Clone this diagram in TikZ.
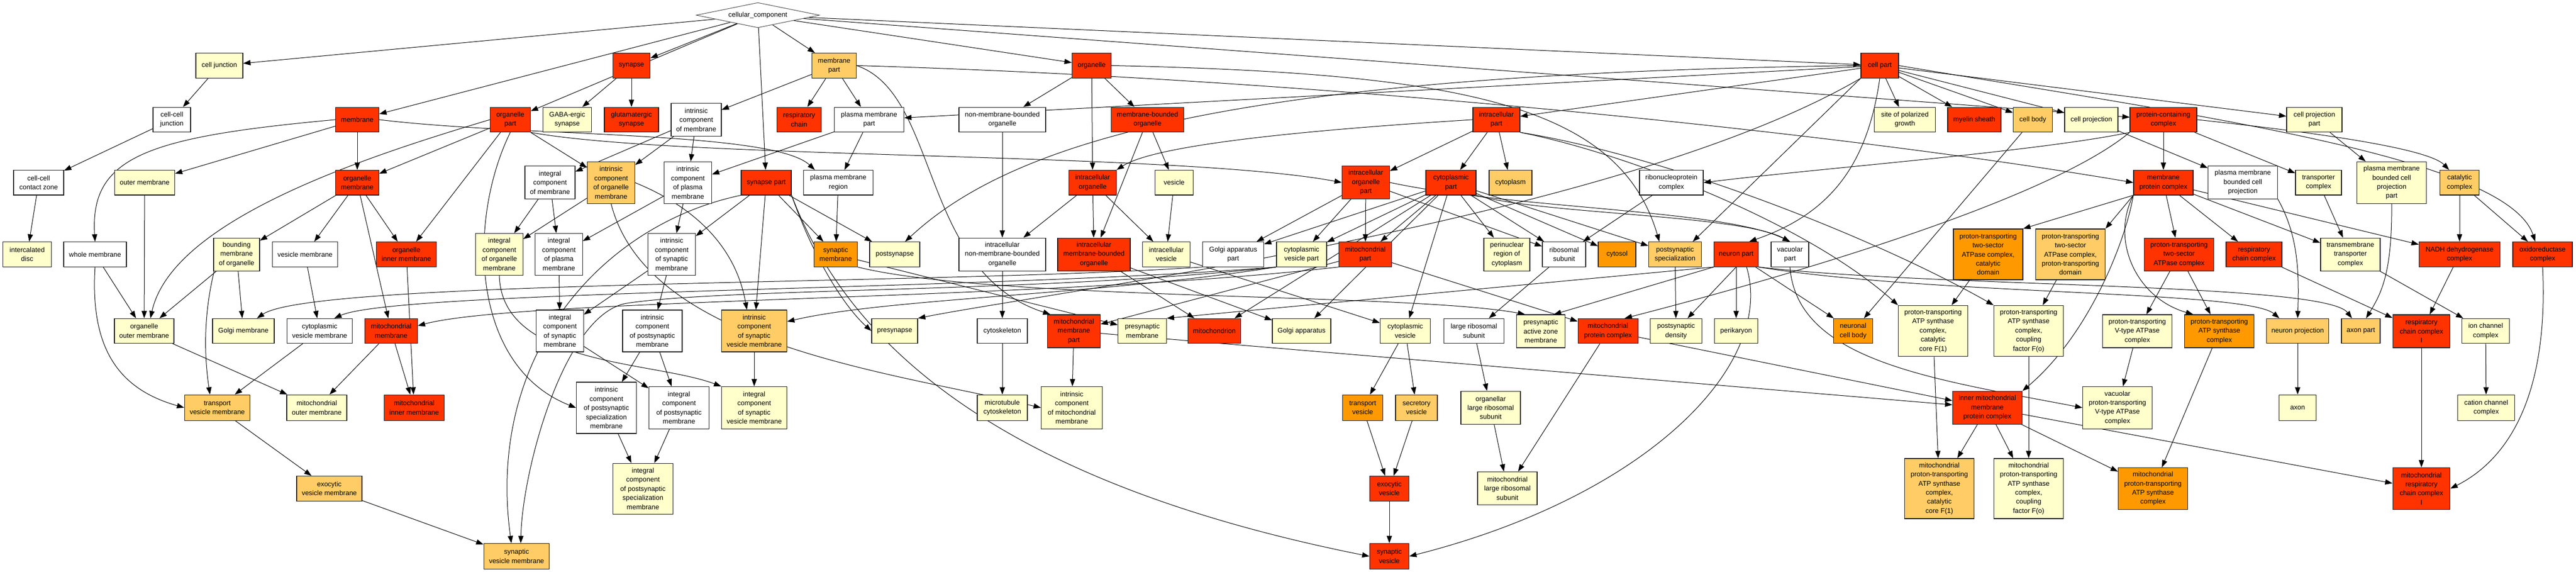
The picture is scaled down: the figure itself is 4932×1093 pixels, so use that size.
\documentclass[tikz,border=0pt]{standalone}
\usepackage{fontspec}
\setmainfont{Liberation Sans}
\usetikzlibrary{shapes.geometric,arrows.meta}
\definecolor{cR}{HTML}{FF3300}
\definecolor{cO}{HTML}{FF9900}
\definecolor{cL}{HTML}{FFCC66}
\definecolor{cY}{HTML}{FFFFCC}
\definecolor{cW}{HTML}{FFFFFF}
\pgfdeclarelayer{bg}
\pgfsetlayers{bg,main}
\newcommand\gonode[7]{\node[nbox,fill=#6,minimum width=#4pt,minimum height=#5pt] (#1) at (#2,#3) {#7};}
\newcommand\gedge[2]{\draw[ed] (#1) -- (#2);}
\begin{document}
\begin{tikzpicture}[x=1pt,y=-1pt,
 nbox/.style={draw=black!90,line width=1.2pt,rectangle,inner sep=0pt,align=center,font=\fontsize{13}{17.4}\selectfont},
 ed/.style={draw=black,line width=1pt,-{Triangle[length=14pt,width=10pt]}}]
\useasboundingbox (0,0) rectangle (4932,1093);
% ---------- nodes ----------
\node[diamond,draw=black!70,line width=1pt,fill=white,minimum width=236pt,minimum height=48pt,aspect=4.9,inner sep=0pt,font=\fontsize{13}{17.4}\selectfont] (cc) at (1451,29) {cellular\_component};
% L1
\gonode{cj}{420}{125.4}{90}{47.4}{cY}{cell junction}
\gonode{syn}{1209}{125.4}{71.5}{47.4}{cR}{synapse}
\gonode{mp}{1597}{125.4}{85}{47.4}{cL}{membrane\\part}
\gonode{org}{2090}{125.4}{75}{47.4}{cR}{organelle}
\gonode{cp}{3599}{125.4}{72}{47.4}{cR}{cell part}
% L2
\gonode{ccj}{329}{228.9}{72}{47.4}{cW}{cell-cell\\junction}
\gonode{mem}{684}{228.9}{83}{47.4}{cR}{membrane}
\gonode{orgp}{977}{228.9}{77}{47.4}{cR}{organelle\\part}
\gonode{gaba}{1086}{228.9}{93}{47.4}{cY}{GABA-ergic\\synapse}
\gonode{glu}{1209}{228.9}{104}{47.4}{cR}{glutamatergic\\synapse}
\gonode{icm}{1333}{229}{96}{63}{cW}{intrinsic\\component\\of membrane}
\gonode{rc}{1530}{228.9}{85}{47.4}{cR}{respiratory\\chain}
\gonode{pmp}{1664}{228.9}{133}{47.4}{cW}{plasma membrane\\part}
\gonode{nmbo}{1919}{228.9}{166}{47.4}{cW}{non-membrane-bounded\\organelle}
\gonode{mbo}{2197}{228.9}{139}{47.4}{cR}{membrane-bounded\\organelle}
\gonode{ip}{2865}{228.9}{90}{47.4}{cR}{intracellular\\part}
\gonode{spg}{3647}{228.9}{117}{47.4}{cY}{site of polarized\\growth}
\gonode{ms}{3780}{228.9}{102}{47.4}{cR}{myelin sheath}
\gonode{cb}{3892}{228.9}{75}{47.4}{cL}{cell body}
\gonode{cproj}{4004}{228.9}{102}{47.4}{cY}{cell projection}
\gonode{pcc}{4142}{228.9}{128}{47.4}{cR}{protein-containing\\complex}
\gonode{cpp}{4431}{228.9}{106}{47.4}{cY}{cell projection\\part}
% L3
\gonode{cccz}{74}{349.2}{96}{47.4}{cW}{cell-cell\\contact zone}
\gonode{om}{277}{349.2}{115}{47.4}{cY}{outer membrane}
\gonode{orgm}{684}{349.2}{83}{47.4}{cR}{organelle\\membrane}
\gonode{icmem}{1053}{349}{96}{62.5}{cW}{integral\\component\\of membrane}
\gonode{icom}{1170}{349.4}{91}{80}{cL}{intrinsic\\component\\of organelle\\membrane}
\gonode{icpm}{1317}{349.4}{91}{80}{cW}{intrinsic\\component\\of plasma\\membrane}
\gonode{synp}{1467}{349.2}{96}{47.4}{cR}{synapse part}
\gonode{pmr}{1605}{349.2}{133}{47.4}{cW}{plasma membrane\\region}
\gonode{io}{2092}{349.2}{90.5}{47.4}{cR}{intracellular\\organelle}
\gonode{ves}{2248}{349.2}{72.5}{47.4}{cY}{vesicle}
\gonode{iop}{2615}{349}{91}{62.5}{cR}{intracellular\\organelle\\part}
\gonode{cytp}{2778}{349.2}{96}{47.4}{cR}{cytoplasmic\\part}
\gonode{cyto}{2892}{349.2}{82}{47.4}{cL}{cytoplasm}
\gonode{rnp}{3200}{349.2}{122}{47.4}{cW}{ribonucleoprotein\\complex}
\gonode{mpc}{4142}{349.2}{114}{47.4}{cR}{membrane\\protein complex}
\gonode{pmbcp}{4294}{349}{133}{62.5}{cW}{plasma membrane\\bounded cell\\projection}
\gonode{tc}{4439}{349.2}{88}{47.4}{cY}{transporter\\complex}
\gonode{pmbcpp}{4579}{349.4}{133}{80}{cY}{plasma membrane\\bounded cell\\projection\\part}
\gonode{catc}{4709}{349.2}{75}{47.4}{cL}{catalytic\\complex}
% L4
\gonode{idisc}{52}{486.4}{93}{47.4}{cY}{intercalated\\disc}
\gonode{wm}{182}{486.4}{120}{47.4}{cW}{whole membrane}
\gonode{bmo}{453}{486.6}{88}{63}{cY}{bounding\\membrane\\of organelle}
\gonode{vm}{584}{486.4}{125}{47.4}{cW}{vesicle membrane}
\gonode{oim}{778}{486.4}{115}{47.4}{cR}{organelle\\inner membrane}
\gonode{icorgm}{956}{486.4}{90.6}{79.6}{cY}{integral\\component\\of organelle\\membrane}
\gonode{icplm}{1070}{486.4}{90.5}{80}{cW}{integral\\component\\of plasma\\membrane}
\gonode{icsm}{1286}{486.4}{91}{80}{cW}{intrinsic\\component\\of synaptic\\membrane}
\gonode{synm}{1600}{486.4}{82.6}{47.4}{cO}{synaptic\\membrane}
\gonode{postsyn}{1713}{486.4}{96}{47.4}{cY}{postsynapse}
\gonode{inmbo}{1919}{486.6}{166}{63}{cW}{intracellular\\non-membrane-bounded\\organelle}
\gonode{imbo}{2094.5}{486.6}{139}{63}{cR}{intracellular\\membrane-bounded\\organelle}
\gonode{iv}{2233}{486.4}{91}{47.4}{cY}{intracellular\\vesicle}
\gonode{gap}{2361}{486.4}{117}{47.4}{cW}{Golgi apparatus\\part}
\gonode{cvp}{2492}{486.4}{96}{47.4}{cY}{cytoplasmic\\vesicle part}
\gonode{mitp}{2614}{486.4}{101}{47.4}{cR}{mitochondrial\\part}
\gonode{perin}{2885}{486.6}{88}{63}{cY}{perinuclear\\region of\\cytoplasm}
\gonode{rs}{2994.5}{486.4}{83}{47.4}{cW}{ribosomal\\subunit}
\gonode{cytosol}{3096}{486.4}{72}{47.4}{cO}{cytosol}
\gonode{pss}{3207}{486.4}{101}{47.4}{cL}{postsynaptic\\specialization}
\gonode{np}{3324}{486.4}{85}{47.4}{cR}{neuron part}
\gonode{vp}{3427}{486.4}{72}{47.4}{cW}{vacuolar\\part}
\gonode{ptcat}{3806.5}{486.4}{133}{97}{cO}{proton-transporting\\two-sector\\ATPase complex,\\catalytic\\domain}
\gonode{ptprot}{3964}{486.4}{133}{97}{cL}{proton-transporting\\two-sector\\ATPase complex,\\proton-transporting\\domain}
\gonode{pts}{4172}{486.6}{133}{63}{cR}{proton-transporting\\two-sector\\ATPase complex}
\gonode{rcc}{4315.5}{486.4}{107}{47.4}{cR}{respiratory\\chain complex}
\gonode{tmtc}{4500}{486.6}{114}{63}{cY}{transmembrane\\transporter\\complex}
\gonode{nadh}{4709}{486.4}{155}{47.4}{cR}{NADH dehydrogenase\\complex}
\gonode{oxc}{4868}{486.4}{114}{47.4}{cR}{oxidoreductase\\complex}
% L5
\gonode{oom}{276}{633}{114}{47.4}{cY}{organelle\\outer membrane}
\gonode{gm}{466}{633}{118}{47.4}{cY}{Golgi membrane}
\gonode{cvm}{612}{633}{125}{47.4}{cW}{cytoplasmic\\vesicle membrane}
\gonode{mm}{749}{633}{100.6}{47.4}{cR}{mitochondrial\\membrane}
\gonode{icsynm}{1072}{633}{90.5}{80}{cW}{integral\\component\\of synaptic\\membrane}
\gonode{icpsm}{1249}{633}{114}{80}{cW}{intrinsic\\component\\of postsynaptic\\membrane}
\gonode{icsvm}{1444}{633}{125}{80}{cL}{intrinsic\\component\\of synaptic\\vesicle membrane}
\gonode{presyn}{1713}{633}{88}{47.4}{cY}{presynapse}
\gonode{cytsk}{1919}{633}{96}{47.4}{cW}{cytoskeleton}
\gonode{mmp}{2056}{633.4}{101}{63}{cR}{mitochondrial\\membrane\\part}
\gonode{psm}{2187}{633}{92.6}{47.4}{cY}{presynaptic\\membrane}
\gonode{mito}{2325}{633}{101}{47.4}{cR}{mitochondrion}
\gonode{ga}{2492}{633}{112}{47.4}{cY}{Golgi apparatus}
\gonode{cv}{2690.5}{633}{96}{47.4}{cY}{cytoplasmic\\vesicle}
\gonode{lrs}{2822}{633}{115}{47.4}{cW}{large ribosomal\\subunit}
\gonode{pazm}{2950}{633.4}{93}{63}{cY}{presynaptic\\active zone\\membrane}
\gonode{mpcx}{3078.6}{633}{115}{47.4}{cR}{mitochondrial\\protein complex}
\gonode{psd}{3209}{633}{98.4}{47.4}{cY}{postsynaptic\\density}
\gonode{perik}{3324}{633}{82.6}{47.4}{cY}{perikaryon}
\gonode{ncb}{3548}{633}{75}{47.4}{cO}{neuronal\\cell body}
\gonode{atpf1}{3701}{633}{133}{97.5}{cY}{proton-transporting\\ATP synthase\\complex,\\catalytic\\core F(1)}
\gonode{atpfo}{3884}{633}{133}{97.5}{cY}{proton-transporting\\ATP synthase\\complex,\\coupling\\factor F(o)}
\gonode{vatp}{4092}{633.4}{133}{63}{cY}{proton-transporting\\V-type ATPase\\complex}
\gonode{atps}{4249}{633.4}{133}{63}{cO}{proton-transporting\\ATP synthase\\complex}
\gonode{nproj}{4399}{633}{119.6}{47.4}{cL}{neuron projection}
\gonode{axp}{4520}{633}{74}{47.4}{cL}{axon part}
\gonode{rcci}{4636}{633.4}{109.6}{63}{cR}{respiratory\\chain complex\\I}
\gonode{icc}{4759}{633}{90.5}{47.4}{cY}{ion channel\\complex}
% L6
\gonode{tvm}{416}{779.7}{125.5}{49}{cL}{transport\\vesicle membrane}
\gonode{mom}{606.5}{779.7}{115}{49}{cY}{mitochondrial\\outer membrane}
\gonode{mim}{793}{779.7}{115}{49}{cR}{mitochondrial\\inner membrane}
\gonode{icpssm}{1161}{780}{115}{98}{cW}{intrinsic\\component\\of postsynaptic\\specialization\\membrane}
\gonode{icpostm}{1300}{779.8}{115}{80.6}{cW}{integral\\component\\of postsynaptic\\membrane}
\gonode{icsvmi}{1444}{779.8}{125}{80.6}{cY}{integral\\component\\of synaptic\\vesicle membrane}
\gonode{mtcyt}{1919}{779.7}{96}{49}{cY}{microtubule\\cytoskeleton}
\gonode{icmm}{2052}{779.8}{117}{80.6}{cY}{intrinsic\\component\\of mitochondrial\\membrane}
\gonode{tv}{2609}{779.7}{77}{49}{cO}{transport\\vesicle}
\gonode{sv}{2712}{779.7}{80}{49}{cL}{secretory\\vesicle}
\gonode{olrs}{2854}{779.8}{114}{63}{cY}{organellar\\large ribosomal\\subunit}
\gonode{imm}{3805}{779.8}{133}{63}{cR}{inner mitochondrial\\membrane\\protein complex}
\gonode{vvatp}{4054}{779.8}{133}{80.6}{cY}{vacuolar\\proton-transporting\\V-type ATPase\\complex}
\gonode{axon}{4399}{779.7}{71.5}{49}{cY}{axon}
\gonode{cacc}{4760}{779.7}{109}{49}{cY}{cation channel\\complex}
% L7
\gonode{evm}{630.5}{934.6}{125}{48}{cL}{exocytic\\vesicle membrane}
\gonode{icpssmi}{1231}{934.7}{114.4}{97}{cY}{integral\\component\\of postsynaptic\\specialization\\membrane}
\gonode{ev}{2660}{934.6}{75}{48}{cR}{exocytic\\vesicle}
\gonode{mlrs}{2886}{934}{114}{63}{cY}{mitochondrial\\large ribosomal\\subunit}
\gonode{mf1}{3713}{934.5}{133.5}{115}{cL}{mitochondrial\\proton-transporting\\ATP synthase\\complex,\\catalytic\\core F(1)}
\gonode{mfo}{3884}{934.5}{133}{115}{cY}{mitochondrial\\proton-transporting\\ATP synthase\\complex,\\coupling\\factor F(o)}
\gonode{matps}{4122}{934.5}{133}{80}{cO}{mitochondrial\\proton-transporting\\ATP synthase\\complex}
\gonode{mrcci}{4636}{934.5}{109.6}{80}{cR}{mitochondrial\\respiratory\\chain complex\\I}
% L8
\gonode{svm}{989}{1064}{125.5}{49}{cL}{synaptic\\vesicle membrane}
\gonode{sv2}{2660}{1064}{75}{49}{cR}{synaptic\\vesicle}
% ---------- edges ----------
\begin{pgfonlayer}{bg}
\fill[white] (0,0) rectangle (4932,1093);
% straight edges
\gedge{cc}{cj}\gedge{cc}{mem}\gedge{cc}{orgp}\gedge{cc}{syn}\gedge{cc}{synp}
\gedge{cc}{mp}\gedge{cc}{org}\gedge{cc}{cp}\gedge{cc}{pcc}
\gedge{cj}{ccj}\gedge{ccj}{cccz}\gedge{cccz}{idisc}
\gedge{mem}{om}\gedge{mem}{orgm}
\gedge{orgp}{orgm}\gedge{orgp}{oim}\gedge{orgp}{icom}
\gedge{syn}{gaba}\gedge{syn}{glu}
\gedge{mp}{icm}\gedge{mp}{rc}\gedge{mp}{pmp}
\gedge{org}{nmbo}\gedge{org}{io}\gedge{org}{mbo}
\gedge{cp}{ip}\gedge{cp}{pmp}\gedge{cp}{spg}\gedge{cp}{ms}\gedge{cp}{cb}\gedge{cp}{cproj}\gedge{cp}{cpp}
\gedge{pcc}{mpc}\gedge{pcc}{tc}
\gedge{icm}{icmem}\gedge{icm}{icom}\gedge{icm}{icpm}
\gedge{pmp}{icpm}\gedge{pmp}{pmr}
\gedge{orgm}{bmo}\gedge{orgm}{vm}\gedge{orgm}{oim}\gedge{orgm}{mm}
\gedge{om}{oom}\gedge{wm}{oom}
\gedge{icmem}{icorgm}\gedge{icmem}{icplm}\gedge{icom}{icorgm}
\gedge{icpm}{icplm}\gedge{icpm}{icsm}
\gedge{synp}{icsm}\gedge{synp}{synm}\gedge{synp}{postsyn}\gedge{synp}{icsvm}
\gedge{pmr}{synm}
\gedge{nmbo}{inmbo}\gedge{io}{inmbo}\gedge{io}{imbo}\gedge{io}{iv}\gedge{mbo}{imbo}\gedge{mbo}{ves}\gedge{ves}{iv}
\gedge{ip}{iop}\gedge{ip}{cytp}\gedge{ip}{cyto}
\gedge{iop}{gap}\gedge{iop}{cvp}\gedge{iop}{mitp}\gedge{iop}{rs}
\gedge{cytp}{gap}\gedge{cytp}{cvp}\gedge{cytp}{mitp}\gedge{cytp}{perin}\gedge{cytp}{rs}
\gedge{cytp}{cytosol}\gedge{cytp}{pss}\gedge{cytp}{mito}\gedge{cytp}{ga}\gedge{cytp}{cv}
\gedge{rnp}{rs}
\gedge{mpc.south west}{ptcat.north east}\gedge{mpc.south west}{ptprot.north east}
\gedge{mpc}{pts}\gedge{mpc}{rcc}\gedge{mpc}{tmtc}\gedge{mpc}{nadh}
\gedge{cproj}{pmbcp}\gedge{cpp}{pmbcpp}\gedge{tc}{tmtc}\gedge{catc}{nadh}\gedge{catc}{oxc}
\gedge{bmo}{oom}\gedge{bmo}{gm}\gedge{vm}{cvm}\gedge{oim}{mim}
\gedge{icplm}{icsynm}\gedge{icsm}{icsynm}\gedge{icsm}{icpsm}
\gedge{synm}{psm}
\gedge{inmbo}{cytsk}\gedge{imbo}{mito}\gedge{imbo}{ga}\gedge{iv}{cv}
\gedge{mitp}{mmp}\gedge{mitp}{mpcx}\gedge{rs}{lrs}\gedge{pss}{psd}
\gedge{np}{perik}\gedge{np}{ncb}\gedge{np.south}{[xshift=22pt]psd.north}
\gedge{np.south west}{[xshift=25pt]pazm.north}\gedge{np.south west}{psm.north east}
\gedge{ptcat}{atpf1}\gedge{ptprot}{atpfo}\gedge{pts}{vatp}\gedge{pts}{atps}
\gedge{rcc}{rcci}\gedge{tmtc}{icc}\gedge{nadh}{rcci}\gedge{cb}{ncb}
\gedge{mm}{mom}\gedge{mm}{mim}\gedge{oom}{mom}\gedge{cvm}{tvm}\gedge{tvm}{evm}\gedge{evm}{svm}
\gedge{icsynm}{icpostm}\gedge{icpsm}{icpostm}\gedge{icpsm}{icpssm}
\gedge{icpssm}{icpssmi}\gedge{icpostm}{icpssmi}\gedge{icsvm}{icsvmi}
\gedge{cytsk}{mtcyt}\gedge{mmp}{icmm}\gedge{mmp}{imm}
\gedge{cv}{tv}\gedge{cv}{sv}\gedge{lrs}{olrs}\gedge{mpcx}{mlrs}\gedge{mpcx}{imm}
\gedge{tv}{ev}\gedge{sv}{ev}\gedge{olrs}{mlrs}\gedge{ev}{sv2}
\gedge{atpf1}{mf1}\gedge{atpfo}{mfo}\gedge{vatp}{vvatp}\gedge{atps}{matps}
\gedge{nproj}{axon}\gedge{icc}{cacc}\gedge{rcci}{mrcci}
\gedge{imm}{mf1}\gedge{imm}{mfo}\gedge{imm}{matps}\gedge{imm}{mrcci}
\gedge{cp.south west}{[xshift=34pt]pss.north}
% curved edges
\draw[ed] (mem.west) .. controls (280,262) and (172,300) .. (wm.north);
\draw[ed] (mem.east) .. controls (1000,262) and (1480,250) .. ([xshift=-45pt]pmr.north);
\draw[ed] (orgp.west) .. controls (700,300) and (330,420) .. ([xshift=12pt]oom.north);
\draw[ed] (orgp.south east) .. controls (1300,305) and (2250,290) .. (iop.west);
\draw[ed] (orgp.south) .. controls (895,420) and (900,700) .. (icpssm.west);
\draw[ed] (wm.south) .. controls (172,670) and (230,745) .. (tvm.west);
\draw[ed] ([xshift=-43pt]bmo.south) .. controls (400,560) and (385,640) .. ([xshift=-14pt]tvm.north);
\draw[ed] (mp.east) .. controls (1800,180) and (1760,520) .. ([xshift=-45pt]mmp.north);
\draw[ed] (mp.east) .. controls (2500,150) and (3500,250) .. (mpc.west);
\draw[ed] (org.east) .. controls (2800,140) and (3100,200) .. ([xshift=-30pt]pss.north);
\draw[ed] (cp.east) .. controls (4200,220) and (4800,300) .. ([xshift=-14pt]oxc.north);
\draw[ed] (oxc.south) .. controls (4880,760) and (4800,880) .. (mrcci.east);
\draw[ed] (cp.south) .. controls (3575,320) and (3500,410) .. ([xshift=25pt]np.north);
\draw[ed] (cp.south west) .. controls (3100,420) and (2000,560) .. (presyn.north east);
\draw[ed] (cp.west) .. controls (2400,140) and (1950,260) .. ([xshift=20pt]postsyn.north);
\draw[ed] (synp.south west) .. controls (1150,430) and (930,680) .. ([xshift=-10pt]svm.north);
\draw[ed] (synp.south east) .. controls (1620,650) and (1900,920) .. (sv2.west);
\draw[ed] (synp.south east) .. controls (1560,500) and (1620,590) .. (presyn.west);
\draw[ed] (cvp.south west) .. controls (2000,560) and (1400,550) .. (1200,580) .. controls (1080,600) and (1000,900) .. ([xshift=8pt]svm.north);
\draw[ed] (cvp.south west) .. controls (2100,565) and (1700,570) .. ([yshift=18pt]icsvm.east);
\draw[ed] (cvp.south west) .. controls (1900,555) and (760,555) .. ([xshift=28pt]cvm.north);
\draw[ed] (gap.south west) .. controls (1800,545) and (600,535) .. ([xshift=26pt]gm.north);
\draw[ed] (mitp.south west) .. controls (2000,575) and (1000,570) .. ([yshift=10pt]mm.east);
\draw[ed] (icom.east) .. controls (1340,400) and (1410,480) .. ([xshift=-14pt]icsvm.north);
\draw[ed] (icom.south) .. controls (1240,660) and (1700,710) .. (icmm.west);
\draw[ed] (icorgm.south) .. controls (960,700) and (1250,690) .. (icsvmi.north west);
\draw[ed] (ip.west) .. controls (2400,255) and (2200,285) .. (io.north east);
\draw[ed] (ip.south east) .. controls (3100,290) and (3450,420) .. (atpf1.north west);
\draw[ed] (ip.south east) .. controls (3200,300) and (3600,460) .. (atpfo.north west);
\draw[ed] (iop.east) .. controls (2900,400) and (3300,400) .. (vp.north);
\draw[ed] (cytp.south east) .. controls (2950,410) and (3330,410) .. (vp.north);
\draw[ed] (pcc.south west) .. controls (3900,290) and (3500,320) .. (rnp.east);
\draw[ed] (pcc.east) .. controls (4450,255) and (4650,285) .. ([xshift=-20pt]catc.north);
\draw[ed] (pcc.south west) .. controls (3900,400) and (3300,560) .. ([xshift=32pt]mpcx.north);
\draw[ed] (mpc.south west) .. controls (4070,460) and (4000,640) .. (imm.north east);
\draw[ed] (mpc.south west) .. controls (4040,460) and (4090,570) .. ([xshift=-50pt]atps.north);
\draw[ed] (pmbcp.south east) .. controls (4400,450) and (4402,520) .. (nproj.north);
\draw[ed] (pmbcpp.south) .. controls (4580,520) and (4560,560) .. ([xshift=10pt]axp.north);
\draw[ed] (np.south east) .. controls (3700,565) and (4300,555) .. ([xshift=-35pt]nproj.north);
\draw[ed] (np.south east) .. controls (3700,550) and (4450,540) .. ([xshift=-17pt]axp.north);
\draw[ed] ([xshift=20pt]np.south) .. controls (3400,700) and (3150,950) .. (sv2.east);
\draw[ed] (vp.south) .. controls (3440,690) and (3700,725) .. (vvatp.west);
\draw[ed] (synm.south east) .. controls (1900,575) and (2700,560) .. ([xshift=-30pt]pazm.north);
\end{pgfonlayer}
\end{tikzpicture}
\end{document}
